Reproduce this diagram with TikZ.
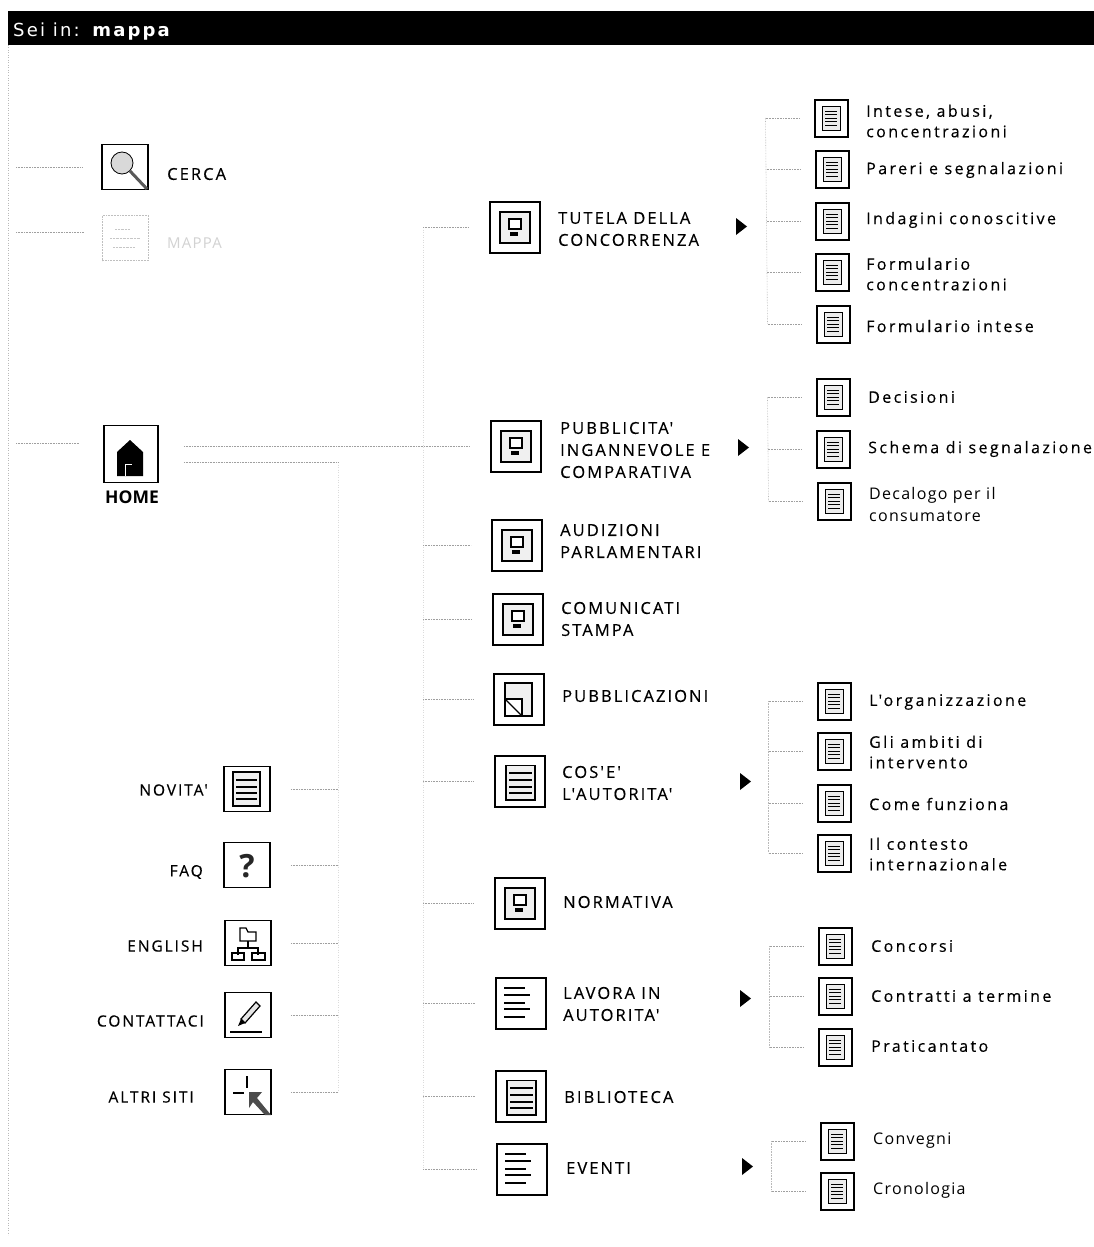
\documentclass[tikz,border=0pt]{standalone}
\usepackage{fontspec}
\setmainfont{Open Sans}
\newfontfamily\maplabel[LetterSpace=12.5,FakeBold=0.3]{Open Sans}
\newfontfamily\subfont[LetterSpace=15,FakeBold=0.3]{Open Sans}
\newfontfamily\thinfont[LetterSpace=8]{Open Sans}
\newfontfamily\barfont[LetterSpace=12]{DejaVu Sans}
\usetikzlibrary{positioning}
\tikzset{
  wire/.style={gray!75, line width=0.6pt, densely dotted},
  trunk/.style={gray!28, line width=0.5pt, dotted},
  iconbox/.style={draw=black, fill=white, line width=2pt, minimum width=50pt, minimum height=51pt, inner sep=0pt},
  sidebox/.style={draw=black, fill=white, line width=1.8pt, minimum width=46pt, minimum height=45pt, inner sep=0pt},
  subbox/.style={draw=black, fill=white, line width=2pt, minimum width=33pt, minimum height=37pt, inner sep=0pt},
  mainlabel/.style={anchor=west, align=left, inner sep=0pt, font=\maplabel\fontsize{16.5}{22}\selectfont},
  sublabel/.style={anchor=west, align=left, inner sep=0pt, font=\subfont\fontsize{16}{20.5}\selectfont},
  thinlabel/.style={anchor=west, align=left, inner sep=0pt, font=\thinfont\fontsize{16}{22}\selectfont},
  sidelabel/.style={anchor=east, inner sep=0pt, font=\maplabel\fontsize{15.5}{22}\selectfont},
  screenmark/.pic={
    \draw[line width=1.8pt, fill=gray!12] (-15,-15) rectangle (15,16);
    \draw[line width=1.2pt, fill=white] (-6,-8) rectangle (6,2);
    \fill (-5,5) rectangle (3,9);
  },
  pagemark/.pic={
    \draw[line width=1.8pt, fill=gray!12] (-14,-15.5) rectangle (15,19);
    \foreach \ly in {-8,-1,6,12} \draw[line width=1.4pt] (-11,\ly) -- (12,\ly);
  },
  foldmark/.pic={
    \draw[line width=1.8pt, fill=gray!12] (-14,-16) rectangle (13,17);
    \draw[line width=1.8pt, fill=white] (-14,0) rectangle (3,17);
    \draw[line width=1.2pt] (-14,0) -- (3,17);
  },
  linesmark/.pic={
    \foreach \ly/\lx in {-15/4,-8/9,0/4,6/9,14/4} \draw[line width=1.3pt] (-17,\ly) -- (\lx,\ly);
  },
  smalldoc/.pic={
    \draw[line width=0.8pt, fill=gray!15] (-9,-12) rectangle (9,12);
    \foreach \ly in {-7,-3.5,0,3.5,7} \draw[line width=1pt] (-6,\ly) -- (6,\ly);
  },
}
\begin{document}
\begin{tikzpicture}[x=1pt, y=-1pt]
  \path[use as bounding box, fill=white] (0,0) rectangle (1094,1247);
  % title bar
  \fill[black] (8,11) rectangle (1094,45);
  \node[anchor=west, inner sep=0pt, text=white, font=\barfont\fontsize{18}{20}\selectfont] (sei) at (13,32) {Sei in: \textbf{mappa}};
  \draw[trunk, gray!55, line width=1pt] (8,45) -- (8,1235);

  % left column
  \node[sidebox] (cerca) at (125,167) {};
  \draw[line width=0.8pt, fill=gray!30] (122,163) circle (11);
  \draw[line width=3pt, gray!70!black] (130,171) -- (147,189);
  \node[mainlabel] (cercat) at (167,174) {CERCA};
  \node[sidebox, draw=gray!50, densely dotted, line width=0.8pt] (mappa) at (125,238) {};
  \draw[gray!45, densely dotted] (110,238) -- (140,238) (115,229) -- (130,229) (113,247) -- (135,247);
  \node[mainlabel, text=gray!35, font=\thinfont\fontsize{15}{22}\selectfont] (mappat) at (167,243) {MAPPA};
  \node[draw=black, fill=white, line width=1.8pt, minimum width=54pt, minimum height=57pt, inner sep=0pt] (home) at (131,454) {};
  \fill[black] (117,476) -- (117,452) -- (130,440) -- (143,452) -- (143,476) -- cycle;
  \draw[white, line width=1pt] (125,476) -- (125,464) -- (132,464);
  \node[anchor=north, inner sep=0pt, font=\bfseries\fontsize{17.5}{19}\selectfont] (homet) at (132,491) {HOME};

  \coordinate (lefttrunk) at (16,300);
  \draw[wire] (lefttrunk |- cerca.west) -- ([xshift=-18pt]cerca.west);
  \draw[wire] ([yshift=6pt]lefttrunk |- mappa.west) -- ([xshift=-18pt,yshift=6pt]mappa.west);
  \draw[wire] ([yshift=11pt]lefttrunk |- home.west) -- ([xshift=-24pt,yshift=11pt]home.west);

  % side links
  \node[sidebox] (novita) at (247,789) {};
  \draw[line width=1.8pt, fill=gray!12] (233,772) rectangle (260,806);
  \foreach \ly in {780,787,793,799} \draw[line width=1.3pt] (236,\ly) -- (257,\ly);
  \node[sidebox] (faq) at (247,865) {};
  \node[inner sep=0pt, font=\bfseries\fontsize{32}{34}\selectfont, text=black!85] (faqq) at (247,866) {?};
  \node[sidebox] (english) at (248,943) {};
  \draw[line width=1.3pt] (240,928) -- (240,941) -- (256,941) -- (256,932) -- (248,932) -- (246,928) -- cycle;
  \draw[line width=1.3pt] (248,941) -- (248,948) (238,955) -- (238,948) -- (258,948) -- (258,955);
  \draw[line width=1.3pt] (232,953) rectangle (244,960) (252,953) rectangle (265,960);
  \node[sidebox] (contatta) at (248,1015) {};
  \draw[line width=1.2pt, fill=gray!20] (241,1019) -- (256,1002) -- (260,1006) -- (245,1023) -- cycle;
  \fill (241,1019) -- (245,1023) -- (238,1026) -- cycle;
  \draw[line width=1.5pt] (230,1032) -- (262,1032);
  \node[sidebox] (altri) at (248,1092) {};
  \draw[line width=1.3pt] (247,1076) -- (247,1088) (233,1093) -- (244,1093);
  \fill[gray!60!black] (249,1092) -- (262,1092) -- (257,1098) -- (271,1115) -- (265,1115) -- (253,1102) -- (249,1108) -- cycle;

  \node[sidelabel] (novitat) at (208,790) {NOVITA'};
  \node[sidelabel] (faqt) at (203,872) {FAQ};
  \node[sidelabel] (englisht) at (203,946) {ENGLISH};
  \node[sidelabel] (contattat) at (204,1021) {CONTATTACI};
  \node[sidelabel] (altrit) at (194,1097) {ALTRI SITI};

  \coordinate (sidetrunk) at (338,462);
  \coordinate (sideend) at (338,1092);
  \draw[trunk] (sidetrunk) -- (sideend);
  \draw[wire] ([xshift=20pt]novita.east) -- (sidetrunk |- novita.east);
  \draw[wire] ([xshift=20pt]faq.east) -- (sidetrunk |- faq.east);
  \draw[wire] ([xshift=19pt]english.east) -- (sidetrunk |- english.east);
  \draw[wire] ([xshift=19pt]contatta.east) -- (sidetrunk |- contatta.east);
  \draw[wire] ([xshift=19pt]altri.east) -- (sidetrunk |- altri.east);
  \draw[wire] ([xshift=25pt,yshift=-8pt]home.east) -- (sidetrunk);

  % main column
  \node[iconbox] (tutela) at (515,227) {}; \pic at (tutela) {screenmark};
  \node[iconbox] (pubblicita) at (516,446) {}; \pic at (pubblicita) {screenmark};
  \node[iconbox] (audizioni) at (517,545) {}; \pic at (audizioni) {screenmark};
  \node[iconbox] (comunicati) at (518,619) {}; \pic at (comunicati) {screenmark};
  \node[iconbox] (pubblicazioni) at (519,699) {}; \pic at (pubblicazioni) {foldmark};
  \node[iconbox] (autorita) at (520,781) {}; \pic at (autorita) {pagemark};
  \node[iconbox] (normativa) at (520,903) {}; \pic at (normativa) {screenmark};
  \node[iconbox] (lavora) at (521,1003) {}; \pic at (lavora) {linesmark};
  \node[iconbox] (biblioteca) at (521,1096) {}; \pic at (biblioteca) {pagemark};
  \node[iconbox] (eventi) at (522,1169) {}; \pic at (eventi) {linesmark};

  \node[mainlabel] (tutelat) at (558,229) {TUTELA DELLA\\CONCORRENZA};
  \node[mainlabel] (pubblicitat) at (560,450) {PUBBLICITA'\\INGANNEVOLE E\\COMPARATIVA};
  \node[mainlabel] (audizionit) at (560,541) {AUDIZIONI\\PARLAMENTARI};
  \node[mainlabel] (comunicatit) at (561,619) {COMUNICATI\\STAMPA};
  \node[mainlabel] (pubblicazionit) at (562,696) {PUBBLICAZIONI};
  \node[mainlabel] (autoritat) at (562,783) {COS'E'\\L'AUTORITA'};
  \node[mainlabel] (normativat) at (563,902) {NORMATIVA};
  \node[mainlabel] (lavorat) at (563,1004) {LAVORA IN\\AUTORITA'};
  \node[mainlabel] (bibliotecat) at (564,1097) {BIBLIOTECA};
  \node[mainlabel] (eventit) at (566,1168) {EVENTI};

  \coordinate (maintrunk) at (423,227);
  \coordinate (mainend) at (423,1169);
  \draw[trunk] (maintrunk) -- (mainend);
  \foreach \nm in {tutela,audizioni,comunicati,pubblicazioni,autorita,normativa,lavora,biblioteca,eventi}
    \draw[wire] (maintrunk |- \nm.west) -- ([xshift=-20pt]\nm.west);
  \draw[wire] ([xshift=25pt,yshift=8pt]home.east) -- ([xshift=-20pt]pubblicita.west);

  % markers
  \foreach \mx/\my in {736/218, 738/439, 740/773, 740/990, 742/1158}
    \fill (\mx,\my) -- (\mx+11,\my+8.5) -- (\mx,\my+17) -- cycle;

  % sub pages
  \foreach \nm/\bx/\by in {intese/831/118, pareri/832/169, indagini/832/221, formconc/832/272, formint/833/324,
      decisioni/833/397, schema/833/449, decalogo/834/501,
      organizz/834/701, ambiti/834/751, funziona/834/803, contesto/834/853,
      concorsi/835/946, contratti/835/996, pratic/835/1047,
      convegni/837/1141, cronologia/837/1191} {
    \node[subbox] (\nm) at (\bx,\by) {};
    \pic at (\nm) {smalldoc};
    \draw[wire] ([xshift=-14pt]\nm.west) -- ++(-34,0) coordinate (\nm-end);
  }
  \draw[wire, gray!55] (intese-end) -- (formint-end);
  \draw[wire, gray!55] (decisioni-end) -- (decalogo-end);
  \draw[wire, gray!55] (organizz-end) -- (contesto-end);
  \draw[wire, gray!55] (concorsi-end) -- (pratic-end);
  \draw[wire, gray!55] (convegni-end) -- (cronologia-end);

  \node[sublabel] (intesen) at (866,121) {Intese, abusi,\\concentrazioni};
  \node[sublabel] (parerin) at (866,170) {Pareri e segnalazioni};
  \node[sublabel] (indaginin) at (866,220) {Indagini conoscitive};
  \node[sublabel] (formconcn) at (866,274) {Formulario\\concentrazioni};
  \node[sublabel] (formintn) at (866,326) {Formulario intese};
  \node[sublabel] (decisionin) at (868,397) {Decisioni};
  \node[sublabel] (scheman) at (868,449) {Schema di segnalazione};
  \node[thinlabel] (decalogon) at (869,504) {Decalogo per il\\consumatore};
  \node[sublabel] (organizzn) at (869,702) {L'organizzazione};
  \node[sublabel] (ambitin) at (869,752) {Gli ambiti di\\intervento};
  \node[sublabel] (funzionan) at (869,804) {Come funziona};
  \node[sublabel] (conteston) at (869,854) {Il contesto\\internazionale};
  \node[sublabel] (concorsin) at (871,946) {Concorsi};
  \node[sublabel] (contrattin) at (871,996) {Contratti a termine};
  \node[sublabel] (praticn) at (871,1046) {Praticantato};
  \node[thinlabel] (convegnin) at (873,1141) {Convegni};
  \node[thinlabel] (cronologian) at (873,1190) {Cronologia};
\end{tikzpicture}
\end{document}
